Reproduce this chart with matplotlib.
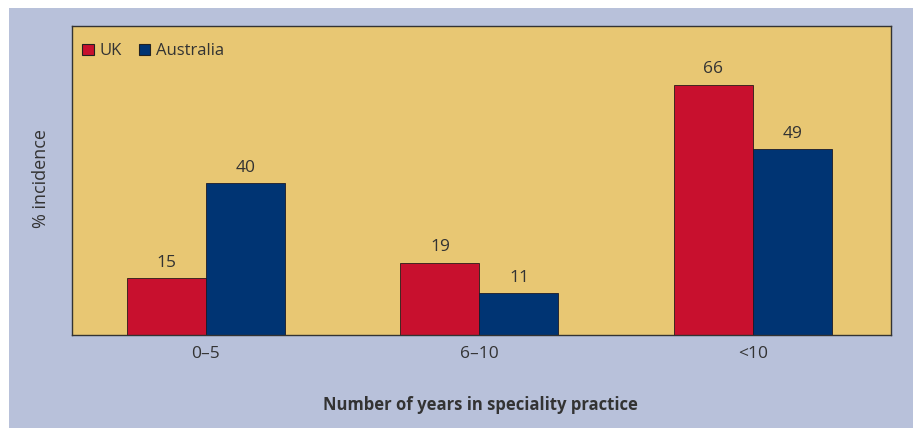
import matplotlib
matplotlib.use("Agg")
import matplotlib.pyplot as plt
from matplotlib.patches import Rectangle, Patch
import numpy as np

categories = ["0–5", "6–10", "<10"]
series_names = ["UK", "Australia"]
uk = [15, 19, 66]
australia = [40, 11, 49]

plt.rcParams['font.family'] = ['Open Sans', 'DejaVu Sans']
txt = '#333333'
bg = '#b8c1da'
panel = '#e8c773'
red = '#c8102e'
blue = '#003473'

W, H = 918, 428
fig = plt.figure(figsize=(W/100, H/100), dpi=100)
fig.patch.set_facecolor('white')
fig.patches.append(Rectangle((9/W, 0), (913-9)/W, (H-8)/H, transform=fig.transFigure,
                             facecolor=bg, edgecolor='none', zorder=-10))

ax = fig.add_axes([72/W, 1-335/H, (891-72)/W, (335-26)/H])
ax.set_zorder(1)
ax.set_facecolor(panel)
x = np.arange(len(categories))
w = 0.289
b1 = ax.bar(x - w/2, uk, w, color=red, edgecolor='#2a1a1a', linewidth=0.6)
b2 = ax.bar(x + w/2, australia, w, color=blue, edgecolor='#1a1a2a', linewidth=0.6)
for bars, vals in ((b1, uk), (b2, australia)):
    for r, v in zip(bars, vals):
        ax.text(r.get_x() + r.get_width()/2, v + 2.0, str(v), ha='center', va='bottom',
                fontsize=12.5, color=txt)

ax.set_xlim(-0.49, 2.505)
ax.set_ylim(0, 81.5)
ax.set_yticks([])
ax.set_xticks(x)
ax.set_xticklabels(categories, fontsize=12.5, color=txt)
ax.tick_params(axis='x', length=0, pad=8)
for s in ax.spines.values():
    s.set_color('#333333')
    s.set_linewidth(1.0)

fig.text(41/W, 1-179/H, '% incidence', rotation=90, ha='center', va='center',
         fontsize=13, color=txt)
fig.text(480/W, 1-405/H, 'Number of years in speciality practice', ha='center', va='center',
         fontsize=12, fontweight='bold', color=txt)

handles = [Patch(facecolor=red, edgecolor='#222222', linewidth=0.8),
           Patch(facecolor=blue, edgecolor='#222222', linewidth=0.8)]
leg = ax.legend(handles, series_names, loc='upper left', bbox_to_anchor=(-0.003, 0.984), ncol=2,
                frameon=False, fontsize=12, handlelength=0.7, handleheight=0.7,
                handletextpad=0.35, columnspacing=1.0, borderaxespad=0.35)
for t in leg.get_texts():
    t.set_color(txt)

fig.savefig('out.png', dpi=100, facecolor=fig.get_facecolor())
